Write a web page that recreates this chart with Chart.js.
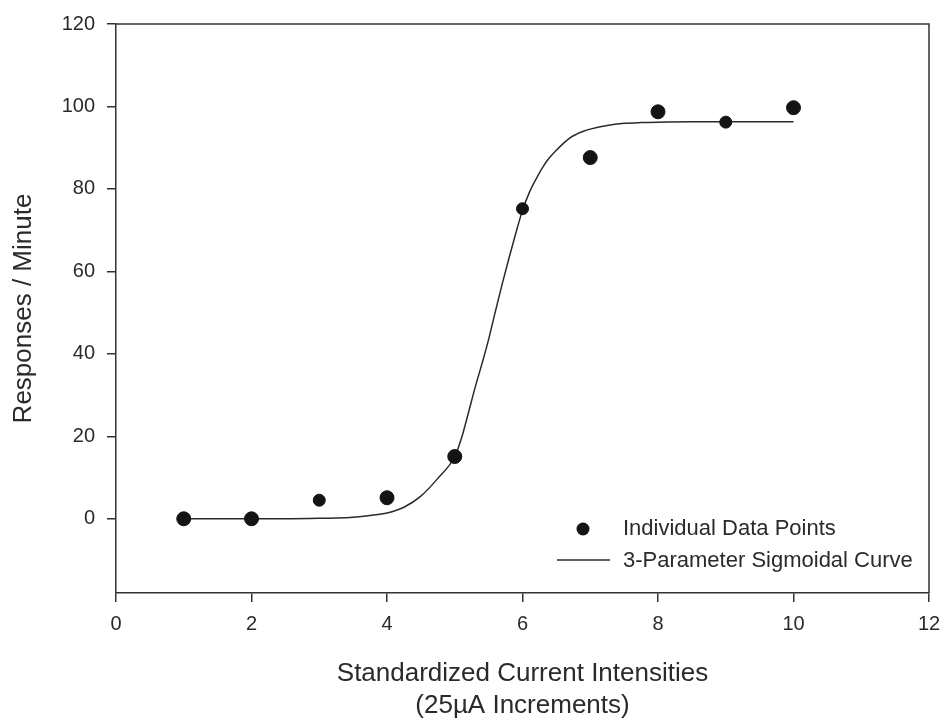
<!DOCTYPE html>
<html>
<head>
<meta charset="utf-8">
<script src="https://cdn.jsdelivr.net/npm/chart.js@4/dist/chart.umd.min.js"></script>
<style>
  html, body { margin: 0; padding: 0; background: #fff; }
  #wrap { width: 945px; height: 721px; }
</style>
</head>
<body>
<div id="wrap"><canvas id="doseChart" width="945" height="721"></canvas></div>
<script>
// ── Data ──────────────────────────────────────────────────────
// measured responses per intensity step
const intensities = [1, 2, 3, 4, 5, 6, 7, 8, 9, 10];
const responses   = [0, 0, 4.5, 5.1, 15.1, 75.2, 87.6, 98.7, 96.2, 99.7];

// fitted 3-parameter sigmoid, sampled along the x range
const curveX = [1, 1.5, 2, 2.5, 3, 3.25, 3.5, 3.75, 4, 4.25, 4.5, 4.75, 5, 5.1, 5.2, 5.3,
                5.4, 5.5, 5.6, 5.7, 5.8, 5.9, 6, 6.1, 6.2, 6.3, 6.4, 6.5, 6.6, 6.7, 6.8,
                6.9, 7, 7.25, 7.5, 7.75, 8, 8.5, 9, 9.5, 10];
const curveY = [0, 0, 0, 0, 0.1, 0.2, 0.4, 0.8, 1.4, 2.8, 5.5, 9.8, 15.1, 19.6, 25.6, 31.8,
                37.5, 43.5, 50.3, 56.9, 63.2, 69.2, 74.8, 79.1, 82.4, 85.3, 87.6, 89.4, 91.0, 92.4, 93.3,
                94.0, 94.5, 95.4, 95.9, 96.1, 96.2, 96.3, 96.3, 96.3, 96.3];

const xTicks = [0, 2, 4, 6, 8, 10, 12];
const yTicks = [0, 20, 40, 60, 80, 100, 120];

const legendLabels = ['Individual Data Points', '3-Parameter Sigmoidal Curve'];

// ── Styles ────────────────────────────────────────────────────
const FONT   = "'Liberation Sans', Arial, sans-serif";
const INK    = '#2a2a2a';
const AXIS   = '#333';
const DOT    = '#141414';
const dotSize = [7, 7, 6, 7, 7, 6, 7, 7, 6, 7];

// box round the plot (top + right edges)
const framePlugin = {
    id: 'frame',
    afterDraw(chart) {
        const { ctx, chartArea: a } = chart;
        ctx.save();
        ctx.strokeStyle = AXIS;
        ctx.lineWidth = 1.5;
        ctx.beginPath();
        ctx.moveTo(a.left, a.top);
        ctx.lineTo(a.right, a.top);
        ctx.lineTo(a.right, a.bottom);
        ctx.stroke();
        ctx.restore();
    }
};

// legend sits inside the plot, lower right
const insideLegend = {
    id: 'insideLegend',
    afterDraw(chart) {
        const { ctx, chartArea: a } = chart;
        const x0 = a.right - 372;
        const y0 = a.bottom - 64;
        const rowGap = 31;
        ctx.save();
        ctx.fillStyle = DOT;
        ctx.beginPath();
        ctx.arc(x0 + 26, y0, 6.5, 0, Math.PI * 2);
        ctx.fill();
        ctx.strokeStyle = INK;
        ctx.lineWidth = 1.5;
        ctx.beginPath();
        ctx.moveTo(x0, y0 + rowGap);
        ctx.lineTo(x0 + 53, y0 + rowGap);
        ctx.stroke();
        ctx.fillStyle = INK;
        ctx.font = '22px ' + FONT;
        ctx.textBaseline = 'middle';
        ctx.textAlign = 'left';
        ctx.fillText(legendLabels[0], x0 + 66, y0);
        ctx.fillText(legendLabels[1], x0 + 66, y0 + rowGap + 1);
        ctx.restore();
    }
};

const ctx = document.getElementById('doseChart').getContext('2d');

new Chart(ctx, {
    data: {
        datasets: [
            {
                type: 'scatter',
                label: legendLabels[0],
                data: intensities.map((x, i) => ({ x, y: responses[i] })),
                backgroundColor: DOT,
                borderColor: DOT,
                borderWidth: 1,
                pointRadius: dotSize,
                order: 1
            },
            {
                type: 'line',
                label: legendLabels[1],
                data: curveX.map((x, i) => ({ x, y: curveY[i] })),
                borderColor: INK,
                borderWidth: 1.5,
                pointRadius: 0,
                fill: false,
                cubicInterpolationMode: 'monotone',
                order: 2
            }
        ]
    },
    options: {
        responsive: false,
        animation: false,
        layout: { padding: { top: 24, right: 16, left: 0, bottom: 0 } },
        plugins: {
            legend: { display: false },
            tooltip: { enabled: false }
        },
        scales: {
            x: {
                type: 'linear',
                min: xTicks[0],
                max: xTicks[xTicks.length - 1],
                afterBuildTicks: (s) => { s.ticks = xTicks.map(v => ({ value: v })); },
                afterFit: (s) => { s.height = 128; s.paddingRight = 0; s.paddingLeft = 0; },
                ticks: {
                    padding: 10,
                    color: INK,
                    font: { family: FONT, size: 20 }
                },
                grid: {
                    drawOnChartArea: false,
                    tickLength: 9,
                    color: AXIS,
                    lineWidth: 1.5
                },
                border: { color: AXIS, width: 1.5 },
                title: {
                    display: true,
                    text: ['Standardized Current Intensities', '(25\u00B5A Increments)'],
                    color: INK,
                    font: { family: FONT, size: 26, lineHeight: 1.2 },
                    padding: { top: 0, bottom: 0 }
                }
            },
            y: {
                type: 'linear',
                min: -18,
                max: 120,
                afterBuildTicks: (s) => { s.ticks = yTicks.map(v => ({ value: v })); },
                afterFit: (s) => { s.width = 116; s.paddingTop = 0; s.paddingBottom = 0; },
                ticks: {
                    padding: 12,
                    color: INK,
                    font: { family: FONT, size: 20 }
                },
                grid: {
                    drawOnChartArea: false,
                    tickLength: 9,
                    color: AXIS,
                    lineWidth: 1.5
                },
                border: { color: AXIS, width: 1.5 },
                title: {
                    display: true,
                    text: 'Responses / Minute',
                    color: INK,
                    font: { family: FONT, size: 26, lineHeight: 1.2 },
                    padding: { top: 8, bottom: 0 }
                }
            }
        }
    },
    plugins: [framePlugin, insideLegend]
});
</script>
</body>
</html>
